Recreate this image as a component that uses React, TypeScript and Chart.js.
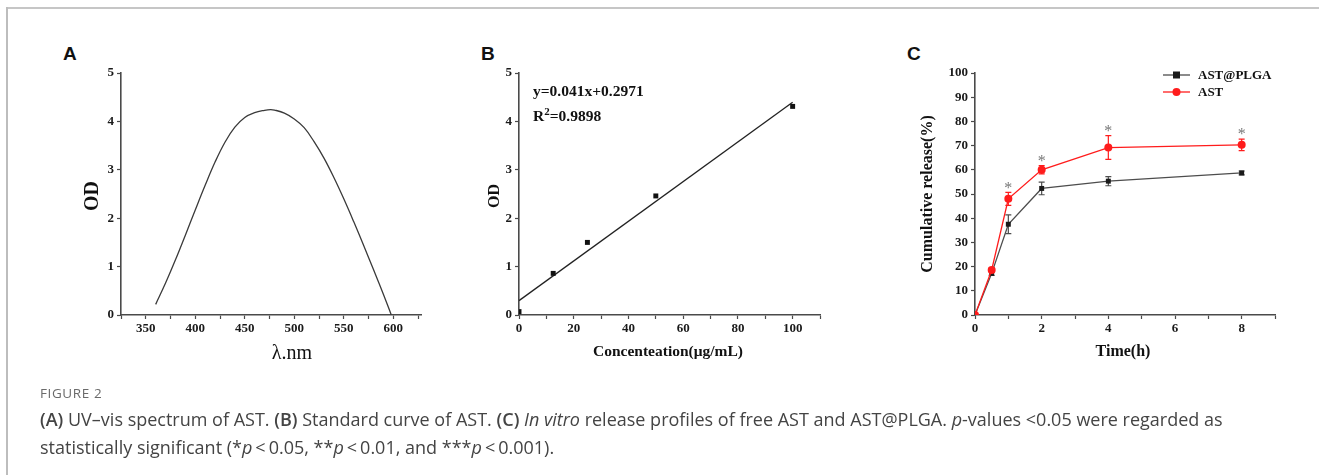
import React, { useEffect, useRef } from "react";
import { Chart, registerables } from "chart.js";
Chart.register(...registerables);

const W = 1319;
const H = 475;
const SERIF = '"Liberation Serif", "Times New Roman", serif';
const AXIS = "#4a4a4a";

// ---------- Panel A: UV-vis spectrum ----------
const spectrumWavelength = [360, 370, 380, 390, 400, 410, 420, 430, 440, 450, 460, 470, 476, 480, 490, 500, 510, 520, 530, 540, 550, 560, 570, 580, 590, 598];
const spectrumOD = [0.22, 0.66, 1.14, 1.65, 2.17, 2.68, 3.16, 3.57, 3.88, 4.08, 4.18, 4.23, 4.245, 4.235, 4.17, 4.05, 3.87, 3.58, 3.24, 2.84, 2.4, 1.93, 1.44, 0.94, 0.43, 0.0];
const aXTicks = [325, 350, 375, 400, 425, 450, 475, 500, 525, 550, 575, 600, 625];
const aXLabels = [350, 400, 450, 500, 550, 600];
const odTicks = [0, 1, 2, 3, 4, 5];

// ---------- Panel B: standard curve ----------
const stdConc = [0, 12.5, 25, 50, 100];
const stdOD = [0.07, 0.86, 1.5, 2.46, 4.31];
const FIT_SLOPE = 0.041;
const FIT_INTERCEPT = 0.2971;
const fitRange = [0, 100];
const bXTicks = [0, 10, 20, 30, 40, 50, 60, 70, 80, 90, 100, 110];
const bXLabels = [0, 20, 40, 60, 80, 100];

// ---------- Panel C: release profiles ----------
const timeH = [0, 0.5, 1, 2, 4, 8];
const plgaRelease = [0, 17.2, 37.5, 52.3, 55.3, 58.7];
const plgaErr = [0, 0.8, 3.9, 2.6, 1.9, 0.8];
const astRelease = [0, 18.6, 48.0, 60.0, 69.2, 70.3];
const astErr = [0, 0.8, 2.7, 1.7, 4.9, 2.4];
const significantTimes = [1, 2, 4, 8];
const cXTicks = [0, 1, 2, 3, 4, 5, 6, 7, 8, 9];
const cXLabels = [0, 2, 4, 6, 8];
const cYTicks = [0, 10, 20, 30, 40, 50, 60, 70, 80, 90, 100];

const PLGA_COLOR = "#1a1a1a";
const PLGA_LINE = "#4d4d4d";
const AST_COLOR = "#ff1c1c";

type TextItem = {
  text: string;
  x: number;
  y: number;
  font: string;
  color?: string;
  rotate?: boolean;
  align?: CanvasTextAlign;
};

function textPlugin(id: string, items: TextItem[]) {
  return {
    id,
    afterDraw(chart: any) {
      const ctx = chart.ctx as CanvasRenderingContext2D;
      ctx.save();
      for (const t of items) {
        ctx.save();
        ctx.font = t.font;
        ctx.fillStyle = t.color || "#111";
        ctx.textAlign = t.align || "center";
        ctx.textBaseline = "middle";
        ctx.translate(t.x, t.y);
        if (t.rotate) ctx.rotate(-Math.PI / 2);
        ctx.fillText(t.text, 0, 0);
        ctx.restore();
      }
      ctx.restore();
    },
  };
}

const tickFont = { family: SERIF, weight: "bold" as const, size: 13 };

function xAxis(min: number, max: number, tickVals: number[], labelVals: number[]) {
  return {
    type: "linear" as const,
    min,
    max,
    afterFit: (s: any) => {
      s.height = 40;
    },
    afterBuildTicks: (s: any) => {
      s.ticks = tickVals.map((v) => ({ value: v }));
    },
    grid: { display: true, drawOnChartArea: false, drawTicks: true, tickLength: 4, tickColor: AXIS, tickWidth: 1.2 },
    border: { display: true, color: AXIS, width: 1.6 },
    ticks: {
      autoSkip: false,
      maxRotation: 0,
      padding: 2,
      color: "#1a1a1a",
      font: tickFont,
      callback: (v: any) => (labelVals.includes(Number(v)) ? String(v) : ""),
    },
  };
}

function yAxis(min: number, max: number, tickVals: number[]) {
  return {
    type: "linear" as const,
    min,
    max,
    afterFit: (s: any) => {
      s.width = 40;
    },
    afterBuildTicks: (s: any) => {
      s.ticks = tickVals.map((v) => ({ value: v }));
    },
    grid: { display: true, drawOnChartArea: false, drawTicks: true, tickLength: 4, tickColor: AXIS, tickWidth: 1.2 },
    border: { display: true, color: AXIS, width: 1.6 },
    ticks: { autoSkip: false, padding: 3, color: "#1a1a1a", font: tickFont },
  };
}

function padFor(L: number, T: number, R: number, B: number) {
  return { left: L - 40, top: T, right: W - R, bottom: H - B - 40 };
}

const baseOptions = {
  responsive: false,
  animation: false as const,
  events: [] as any[],
  plugins: { legend: { display: false }, tooltip: { enabled: false } },
};

function makeA() {
  return {
    type: "scatter" as const,
    data: {
      datasets: [
        {
          data: spectrumWavelength.map((x, i) => ({ x, y: spectrumOD[i] })),
          showLine: true,
          borderColor: "#3a3a3a",
          borderWidth: 1.3,
          pointRadius: 0,
          tension: 0.4,
        },
      ],
    },
    options: {
      ...baseOptions,
      layout: { padding: padFor(121, 73, 421, 315) },
      scales: { x: xAxis(325, 628, aXTicks, aXLabels), y: yAxis(0, 5, odTicks) },
    },
    plugins: [
      textPlugin("aTitles", [
        { text: "OD", x: 93, y: 196, font: `bold 20px ${SERIF}`, rotate: true },
        { text: "λ.nm", x: 292, y: 354, font: `20px ${SERIF}` },
      ]),
    ],
  };
}

function makeB() {
  return {
    type: "scatter" as const,
    data: {
      datasets: [
        {
          data: stdConc.map((x, i) => ({ x, y: stdOD[i] })),
          pointStyle: "rect" as const,
          pointRadius: 3.5,
          backgroundColor: "#111",
          borderColor: "#111",
          borderWidth: 0,
        },
        {
          data: fitRange.map((x) => ({ x, y: FIT_SLOPE * x + FIT_INTERCEPT })),
          showLine: true,
          borderColor: "#222",
          borderWidth: 1.3,
          pointRadius: 0,
        },
      ],
    },
    options: {
      ...baseOptions,
      layout: { padding: padFor(519, 73, 820, 315) },
      scales: { x: xAxis(0, 110, bXTicks, bXLabels), y: yAxis(0, 5, odTicks) },
    },
    plugins: [
      textPlugin("bTitles", [
        { text: "OD", x: 495, y: 196, font: `bold 16px ${SERIF}`, rotate: true },
        { text: "Concenteation(μg/mL)", x: 668, y: 352, font: `bold 15.5px ${SERIF}` },
        { text: "y=0.041x+0.2971", x: 533, y: 92, font: `bold 15.5px ${SERIF}`, align: "left" },
      ]),
      {
        id: "r2",
        afterDraw(chart: any) {
          const ctx = chart.ctx as CanvasRenderingContext2D;
          ctx.save();
          ctx.fillStyle = "#111";
          ctx.textBaseline = "alphabetic";
          ctx.textAlign = "left";
          let x = 533;
          const base = 121;
          ctx.font = `bold 15.5px ${SERIF}`;
          ctx.fillText("R", x, base);
          x += ctx.measureText("R").width;
          ctx.font = `bold 11px ${SERIF}`;
          ctx.fillText("2", x, base - 6);
          x += ctx.measureText("2").width;
          ctx.font = `bold 15.5px ${SERIF}`;
          ctx.fillText("=0.9898", x, base);
          ctx.restore();
        },
      },
    ],
  };
}

const errorBarPlugin = {
  id: "errorBars",
  beforeDatasetsDraw(chart: any) {
    const { ctx, scales } = chart;
    const x = scales.x;
    const y = scales.y;
    chart.data.datasets.forEach((ds: any) => {
      const errs: number[] | undefined = ds.errors;
      if (!errs) return;
      ctx.save();
      ctx.strokeStyle = ds.borderColor;
      ctx.lineWidth = 1.2;
      ds.data.forEach((p: any, j: number) => {
        const e = errs[j];
        if (!e) return;
        const px = x.getPixelForValue(p.x);
        const top = y.getPixelForValue(p.y + e);
        const bot = y.getPixelForValue(p.y - e);
        ctx.beginPath();
        ctx.moveTo(px, top);
        ctx.lineTo(px, bot);
        ctx.moveTo(px - 3, top);
        ctx.lineTo(px + 3, top);
        ctx.moveTo(px - 3, bot);
        ctx.lineTo(px + 3, bot);
        ctx.stroke();
      });
      ctx.restore();
    });
  },
};

const significancePlugin = {
  id: "signif",
  afterDatasetsDraw(chart: any) {
    const { ctx, scales } = chart;
    ctx.save();
    ctx.fillStyle = "#777";
    ctx.font = `16px ${SERIF}`;
    ctx.textAlign = "center";
    ctx.textBaseline = "middle";
    significantTimes.forEach((t) => {
      const i = timeH.indexOf(t);
      const px = scales.x.getPixelForValue(t);
      const py = scales.y.getPixelForValue(astRelease[i] + astErr[i]) - 4;
      ctx.fillText("*", px, py);
    });
    ctx.restore();
  },
};

const legendC = {
  id: "legendC",
  afterDraw(chart: any) {
    const ctx = chart.ctx as CanvasRenderingContext2D;
    const rows = [
      { label: "AST@PLGA", line: PLGA_LINE, fill: PLGA_COLOR, square: true, y: 75 },
      { label: "AST", line: AST_COLOR, fill: AST_COLOR, square: false, y: 92 },
    ];
    ctx.save();
    rows.forEach((r) => {
      ctx.strokeStyle = r.line;
      ctx.lineWidth = 1.3;
      ctx.beginPath();
      ctx.moveTo(1163, r.y);
      ctx.lineTo(1190, r.y);
      ctx.stroke();
      ctx.fillStyle = r.fill;
      if (r.square) ctx.fillRect(1173, r.y - 3.5, 7, 7);
      else {
        ctx.beginPath();
        ctx.arc(1176.5, r.y, 4, 0, Math.PI * 2);
        ctx.fill();
      }
      ctx.fillStyle = "#111";
      ctx.font = `bold 13px ${SERIF}`;
      ctx.textAlign = "left";
      ctx.textBaseline = "middle";
      ctx.fillText(r.label, 1198, r.y + 1);
    });
    ctx.restore();
  },
};

function makeC() {
  return {
    type: "scatter" as const,
    data: {
      datasets: [
        {
          label: "AST",
          data: timeH.map((x, i) => ({ x, y: astRelease[i] })),
          errors: astErr,
          showLine: true,
          borderColor: AST_COLOR,
          backgroundColor: AST_COLOR,
          borderWidth: 1.3,
          pointRadius: 4,
          pointBorderWidth: 0,
          pointStyle: "circle" as const,
        },
        {
          label: "AST@PLGA",
          data: timeH.map((x, i) => ({ x, y: plgaRelease[i] })),
          errors: plgaErr,
          showLine: true,
          borderColor: PLGA_LINE,
          backgroundColor: PLGA_COLOR,
          pointBorderColor: PLGA_COLOR,
          borderWidth: 1.3,
          pointRadius: 3.5,
          pointBorderWidth: 0,
          pointStyle: "rect" as const,
        },
      ],
    },
    options: {
      ...baseOptions,
      layout: { padding: padFor(975, 73, 1275, 315) },
      scales: { x: xAxis(0, 9, cXTicks, cXLabels), y: yAxis(0, 100, cYTicks) },
    },
    plugins: [
      errorBarPlugin,
      significancePlugin,
      legendC,
      textPlugin("cTitles", [
        { text: "Cumulative release(%)", x: 928, y: 194, font: `bold 16px ${SERIF}`, rotate: true },
        { text: "Time(h)", x: 1123, y: 352, font: `bold 16px ${SERIF}` },
      ]),
    ],
  };
}

function ChartCanvas({ make }: { make: () => any }) {
  const ref = useRef<HTMLCanvasElement>(null);
  useEffect(() => {
    const chart = new Chart(ref.current as HTMLCanvasElement, make());
    return () => chart.destroy();
  }, []);
  return (
    <canvas
      ref={ref}
      width={W}
      height={H}
      style={{ position: "absolute", left: 0, top: 0, width: W, height: H }}
    />
  );
}

const letterStyle: React.CSSProperties = {
  position: "absolute",
  top: 44,
  fontFamily: '"Liberation Sans", Arial, sans-serif',
  fontWeight: "bold",
  fontSize: 19,
  lineHeight: "19px",
  color: "#111",
};

const semi: React.CSSProperties = { fontWeight: 600 };

export default function App() {
  return (
    <div
      style={{
        position: "fixed",
        left: 0,
        top: 0,
        width: W,
        height: H,
        background: "#fff",
        overflow: "hidden",
      }}
    >
      <div style={{ position: "absolute", left: 6, top: 7, width: W - 6, height: 2, background: "#c6c6c6" }} />
      <div style={{ position: "absolute", left: 6, top: 7, width: 1.5, height: H - 7, background: "#bdbdbd" }} />
      <div style={{ ...letterStyle, left: 63 }}>A</div>
      <div style={{ ...letterStyle, left: 481 }}>B</div>
      <div style={{ ...letterStyle, left: 907 }}>C</div>
      <ChartCanvas make={makeA} />
      <ChartCanvas make={makeB} />
      <ChartCanvas make={makeC} />
      <div
        style={{
          position: "absolute",
          left: 40,
          top: 385,
          fontFamily: '"Open Sans", sans-serif',
          fontSize: 13.5,
          lineHeight: "16px",
          letterSpacing: 0.6,
          color: "#6a6a6a",
          whiteSpace: "nowrap",
        }}
      >
        FIGURE 2
      </div>
      <div
        style={{
          position: "absolute",
          left: 40,
          top: 405,
          fontFamily: '"Open Sans", sans-serif',
          fontSize: 18,
          lineHeight: "28px",
          color: "#444",
          whiteSpace: "nowrap",
        }}
      >
        <b style={semi}>(A)</b> UV–vis spectrum of AST. <b style={semi}>(B)</b> Standard curve of AST.{" "}
        <b style={semi}>(C)</b> <i>In vitro</i> release profiles of free AST and AST@PLGA. <i>p</i>-values &lt;0.05 were regarded as
        <br />
        statistically significant (*<i>p</i>&thinsp;&lt;&thinsp;0.05, **<i>p</i>&thinsp;&lt;&thinsp;0.01, and ***<i>p</i>&thinsp;&lt;&thinsp;0.001).
      </div>
    </div>
  );
}
